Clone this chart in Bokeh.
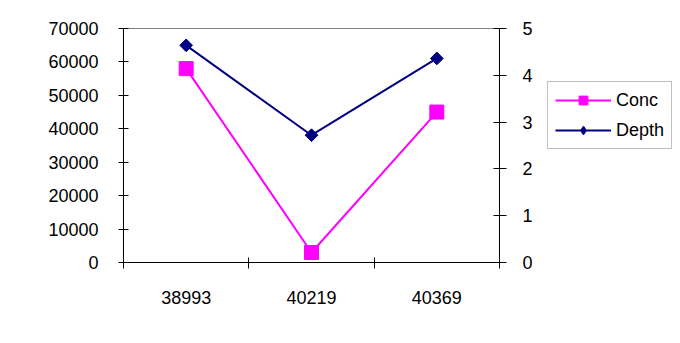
import math
from bokeh.plotting import figure
from bokeh.layouts import row
from bokeh.models import Range1d, LinearAxis, FixedTicker, Legend, LegendItem
from bokeh.embed import file_html
from bokeh.resources import INLINE

categories = ["38993", "40219", "40369"]
conc = [58000, 3000, 45000]
depth = [4.64, 2.72, 4.36]
conc_ticks = [0, 10000, 20000, 30000, 40000, 50000, 60000, 70000]
depth_ticks = [0, 1, 2, 3, 4, 5]

FONT = "Liberation Sans"
FS = "18px"
CONC_COLOR = "#FF00FF"
DEPTH_COLOR = "#000080"

xs = [i + 0.5 for i in range(len(categories))]
bounds = [i for i in range(len(categories) + 1)]

p = figure(width=545, height=335, output_backend="svg", toolbar_location=None,
           title=None,
           x_range=Range1d(0, len(categories)), y_range=Range1d(conc_ticks[0], conc_ticks[-1]),
           min_border_left=123, min_border_right=46, min_border_top=28, min_border_bottom=73)
p.extra_y_ranges = {"depth": Range1d(depth_ticks[0], depth_ticks[-1])}
p.xgrid.visible = False
p.ygrid.visible = False
p.outline_line_color = "#808080"
p.outline_line_width = 1
p.background_fill_color = "white"
p.border_fill_color = "white"

# x axis
xa = p.xaxis[0]
xa.ticker = FixedTicker(ticks=xs, minor_ticks=bounds)
xa.major_label_overrides = {x: c for x, c in zip(xs, categories)}
xa.major_tick_line_color = None
xa.major_tick_out = 0
xa.major_tick_in = 0
xa.minor_tick_out = 6
xa.minor_tick_in = 5
xa.minor_tick_line_color = "black"
xa.axis_line_color = "black"
xa.major_label_standoff = 22
xa.major_label_text_font = FONT
xa.major_label_text_font_size = FS
xa.major_label_text_color = "black"

# left axis
ya = p.yaxis[0]
ya.ticker = FixedTicker(ticks=conc_ticks)
ya.minor_tick_line_color = None
ya.major_tick_out = 5
ya.major_tick_in = 5
ya.major_tick_line_color = "black"
ya.axis_line_color = "black"
ya.major_label_standoff = 20
ya.major_label_text_font = FONT
ya.major_label_text_font_size = FS
ya.major_label_text_color = "black"

# right axis
ra = LinearAxis(y_range_name="depth", ticker=FixedTicker(ticks=depth_ticks))
ra.minor_tick_line_color = None
ra.major_tick_out = 7
ra.major_tick_in = 6
ra.major_tick_line_color = "black"
ra.axis_line_color = "black"
ra.major_label_standoff = 16
ra.major_label_text_font = FONT
ra.major_label_text_font_size = FS
ra.major_label_text_color = "black"
p.add_layout(ra, "right")

p.line(xs, conc, line_color=CONC_COLOR, line_width=2)
p.scatter(xs, conc, marker="square", size=14, fill_color=CONC_COLOR, line_color=CONC_COLOR)
p.line(xs, depth, line_color=DEPTH_COLOR, line_width=2, y_range_name="depth")
p.scatter(xs, depth, marker="square", angle=math.pi / 4, size=9, fill_color=DEPTH_COLOR,
          line_color=DEPTH_COLOR, y_range_name="depth")

# legend panel (separate figure to the right of the plot area; its renderers lie outside its ranges)
q = figure(width=127, height=335, output_backend="svg", toolbar_location=None, title=None,
           x_axis_type=None, y_axis_type=None, x_range=Range1d(100, 101), y_range=Range1d(100, 101),
           min_border_left=0, min_border_right=0, min_border_top=28, min_border_bottom=73)
q.xgrid.visible = False
q.ygrid.visible = False
q.outline_line_color = None
q.background_fill_color = "white"
q.border_fill_color = "white"
ql1 = q.line(xs, conc, line_color=CONC_COLOR, line_width=2)
qs1 = q.scatter(xs, conc, marker="square", fill_color=CONC_COLOR, line_color=CONC_COLOR)
ql2 = q.line(xs, depth, line_color=DEPTH_COLOR, line_width=2)
qs2 = q.scatter(xs, depth, marker="diamond", fill_color=DEPTH_COLOR, line_color=DEPTH_COLOR)

legend = Legend(items=[LegendItem(label="Conc", renderers=[ql1, qs1]),
                       LegendItem(label="Depth", renderers=[ql2, qs2])],
                location=(2, 113), border_line_color="#808080", border_line_width=1,
                label_text_font=FONT, label_text_font_size=FS, label_text_color="black",
                glyph_width=56, glyph_height=22, label_height=22, label_standoff=5,
                padding=7, spacing=8, margin=0, background_fill_alpha=1)
q.add_layout(legend)

layout = row(p, q, spacing=0)
open("out.html", "w").write(file_html(layout, INLINE))
